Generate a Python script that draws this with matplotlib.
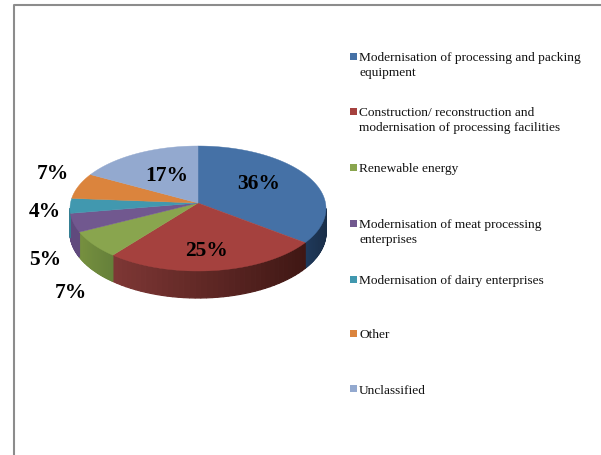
import numpy as np
import matplotlib
matplotlib.use("Agg")
import matplotlib.pyplot as plt
from matplotlib.patches import Polygon, Rectangle

categories = ["Modernisation of processing and packing\nequipment",
              "Construction/ reconstruction and\nmodernisation of processing facilities",
              "Renewable energy",
              "Modernisation of meat processing\nenterprises",
              "Modernisation of dairy enterprises",
              "Other",
              "Unclassified"]
values = [36, 25, 7, 5, 4, 7, 17]
labels = ["36%", "25%", "7%", "5%", "4%", "7%", "17%"]
colors = ["#4571A6", "#A5413E", "#89A54E", "#71588F", "#4198AF", "#DB843D", "#93A9CF"]
side_left = ["#1F3A5C", "#7E3735", "#76903F", "#604A7D", "#357F93", "#B96F30", "#7D90B0"]
side_right = ["#1A2E48", "#3F1714", "#65803A", "#604A7D", "#357F93", "#B96F30", "#7D90B0"]
legend_y = [57, 112, 168, 224, 280, 334, 390]
label_pos = [(259, 184), (207, 251), (71, 293), (45, 260), (45, 212), (53, 174), (167, 176)]

AX_, AY_ = 198, 204            # apex of the pie
CX, CY, RX, RY = 198, 209.5, 128, 62.5   # rim ellipse
B = 60

fig = plt.figure(figsize=(6.01, 4.56), dpi=100)
ax = fig.add_axes([0, 0, 1, 1])
ax.set_xlim(0, 601)
ax.set_ylim(456, 0)
ax.axis("off")

# frame
ax.plot([14, 14, 601], [456, 5.8, 5.8], color="#8C8C8C", lw=1.5, solid_capstyle="butt")


def rim_param(theta):
    """Ellipse parameter where the ray of the slice angle theta leaves the apex."""
    dx, dy = np.sin(theta) * RX, -np.cos(theta) * B
    ox, oy = AX_ - CX, AY_ - CY
    A = (dx / RX) ** 2 + (dy / RY) ** 2
    Bq = 2 * (ox * dx / RX ** 2 + oy * dy / RY ** 2)
    Cq = (ox / RX) ** 2 + (oy / RY) ** 2 - 1
    s = (-Bq + np.sqrt(Bq ** 2 - 4 * A * Cq)) / (2 * A)
    px, py = ox + s * dx, oy + s * dy
    return np.arctan2(px / RX, -py / RY) % (2 * np.pi)


def pt(t):
    return CX + RX * np.sin(t), CY - RY * np.cos(t)


def depth(t):
    return 24 + 3 * max(-np.cos(t), 0)


def rgb(h):
    return np.array(matplotlib.colors.to_rgb(h))


fracs = np.array(values, float) / sum(values)
edges = np.concatenate([[0], np.cumsum(fracs)]) * 2 * np.pi
params = [0.0] + [rim_param(e) for e in edges[1:-1]] + [2 * np.pi]

# sides (front half only), shaded from left to right
for i in range(len(values)):
    a = max(params[i], np.pi / 2)
    b = min(params[i + 1], 3 * np.pi / 2)
    if b <= a:
        continue
    th = np.linspace(a, b, 40)
    xs = [pt(t)[0] for t in th]
    xa, xb = min(xs), max(xs)
    for t0, t1 in zip(th[:-1], th[1:]):
        x0, y0 = pt(t0)
        x1, y1 = pt(t1)
        f = ((x0 + x1) / 2 - xa) / max(xb - xa, 1)
        c = rgb(side_left[i]) * (1 - f) + rgb(side_right[i]) * f
        ax.add_patch(Polygon([(x0, y0), (x1, y1), (x1, y1 + depth(t1)), (x0, y0 + depth(t0))],
                             closed=True, fc=c, ec=c, lw=0.9, zorder=2))

# tops
for i in range(len(values)):
    th = np.linspace(params[i], params[i + 1], 100)
    pts = [(AX_, AY_)] + [pt(t) for t in th]
    ax.add_patch(Polygon(pts, closed=True, fc=colors[i], ec=colors[i], lw=0.3, zorder=3))

# percentage labels
for (x, y), s in zip(label_pos, labels):
    ax.text(x, y, s, ha="center", va="center", fontsize=15.5, fontweight="bold",
            family="Liberation Serif", color="black", zorder=5)

# legend
for y, c, s in zip(legend_y, colors, categories):
    ax.add_patch(Rectangle((350, y - 3.5), 7, 7, fc=c, ec="none", zorder=4))
    ax.text(359, y - 4.5, s, ha="left", va="top", fontsize=9.6, family="Liberation Serif",
            color="#111111", linespacing=1.27, zorder=5)

fig.savefig("out.png", dpi=100)
